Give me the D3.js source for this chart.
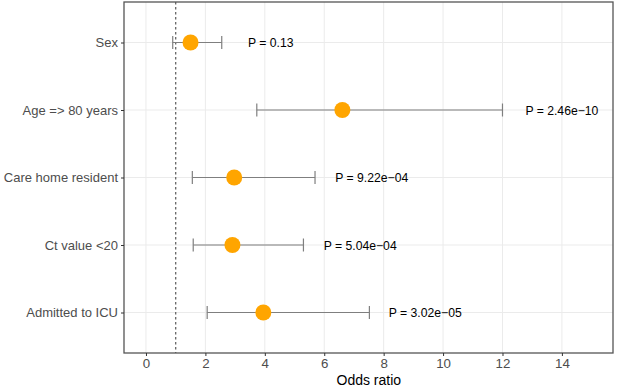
<!DOCTYPE html>
<html>
<head>
<meta charset="utf-8">
<script src="https://cdn.jsdelivr.net/npm/d3@7"></script>
<style>
  body { margin: 0; background: #fff; }
  svg { display: block; font-family: "Liberation Sans", Arial, sans-serif; }
</style>
</head>
<body>
<svg id="chart" width="617" height="389"></svg>
<script>
// values
const categories = ["Sex", "Age => 80 years", "Care home resident", "Ct value <20", "Admitted to ICU"];
const oddsRatio = [1.50, 6.61, 2.97, 2.91, 3.95];
const ciLower = [0.90, 3.73, 1.56, 1.59, 2.06];
const ciUpper = [2.55, 12.0, 5.69, 5.30, 7.52];
const pLabels = ["P = 0.13", "P = 2.46e\u221210", "P = 9.22e\u221204", "P = 5.04e\u221204", "P = 3.02e\u221205"];
const pLabelX = [4.2, 14.0, 7.6, 7.21, 9.4];
const xTicks = [0, 2, 4, 6, 8, 10, 12, 14];

const data = categories.map((c, i) => ({
    cat: c, or: oddsRatio[i], lo: ciLower[i], hi: ciUpper[i], p: pLabels[i], px: pLabelX[i]
}));

const svg = d3.select("#chart");
const margin = { top: 2, right: 4, bottom: 36, left: 124 };
const width = 617, height = 389;
const innerWidth = width - margin.left - margin.right;
const innerHeight = height - margin.top - margin.bottom;

const g = svg.append("g").attr("transform", `translate(${margin.left},${margin.top})`);

const x = d3.scaleLinear().domain([-0.74, 15.72]).range([0, innerWidth]);
// discrete scale like ggplot: 5 levels laid over [0.4, 5.6]
const y = d3.scalePoint().domain(categories)
    .range([innerHeight * 0.6 / 5.2, innerHeight * 4.6 / 5.2]);

// grid
g.selectAll(".gx").data(xTicks).enter().append("line")
    .attr("x1", d => x(d)).attr("x2", d => x(d))
    .attr("y1", 0).attr("y2", innerHeight)
    .attr("stroke", "#ebebeb").attr("stroke-width", 1);
g.selectAll(".gy").data(categories).enter().append("line")
    .attr("x1", 0).attr("x2", innerWidth)
    .attr("y1", d => y(d)).attr("y2", d => y(d))
    .attr("stroke", "#ebebeb").attr("stroke-width", 1);

// reference line at 1
g.append("line")
    .attr("x1", x(1)).attr("x2", x(1))
    .attr("y1", 0).attr("y2", innerHeight)
    .attr("stroke", "#666").attr("stroke-width", 1.3)
    .attr("stroke-dasharray", "2.5,2.5");

// error bars
const bars = g.selectAll(".err").data(data).enter().append("g");
bars.append("line")
    .attr("x1", d => x(d.lo)).attr("x2", d => x(d.hi))
    .attr("y1", d => y(d.cat)).attr("y2", d => y(d.cat))
    .attr("stroke", "#7f7f7f").attr("stroke-width", 1.2);
bars.append("line")
    .attr("x1", d => x(d.lo)).attr("x2", d => x(d.lo))
    .attr("y1", d => y(d.cat) - 6.5).attr("y2", d => y(d.cat) + 6.5)
    .attr("stroke", "#7f7f7f").attr("stroke-width", 1.2);
bars.append("line")
    .attr("x1", d => x(d.hi)).attr("x2", d => x(d.hi))
    .attr("y1", d => y(d.cat) - 6.5).attr("y2", d => y(d.cat) + 6.5)
    .attr("stroke", "#7f7f7f").attr("stroke-width", 1.2);

// points
g.selectAll(".pt").data(data).enter().append("circle")
    .attr("cx", d => x(d.or)).attr("cy", d => y(d.cat))
    .attr("r", 8).attr("fill", "#FFA500");

// p-value labels
g.selectAll(".pl").data(data).enter().append("text")
    .attr("x", d => x(d.px)).attr("y", d => y(d.cat) + 4.5)
    .attr("text-anchor", "middle")
    .attr("font-size", 12.2)
    .attr("fill", "#000")
    .text(d => d.p);

// panel border
g.append("rect")
    .attr("x", 0).attr("y", 0).attr("width", innerWidth).attr("height", innerHeight)
    .attr("fill", "none").attr("stroke", "#555").attr("stroke-width", 1.3);

// x axis
const xAxis = g.append("g").attr("transform", `translate(0,${innerHeight})`)
    .call(d3.axisBottom(x).tickValues(xTicks).tickSize(3).tickPadding(3).tickSizeOuter(0));
xAxis.select(".domain").remove();
xAxis.selectAll("line").attr("stroke", "#333");
xAxis.selectAll("text").attr("fill", "#4d4d4d").attr("font-size", 13.3)
    .attr("font-family", "Liberation Sans, Arial, sans-serif");

// y axis
const yAxis = g.append("g")
    .call(d3.axisLeft(y).tickSize(3).tickPadding(3));
yAxis.select(".domain").remove();
yAxis.selectAll("line").attr("stroke", "#333");
yAxis.selectAll("text").attr("fill", "#4d4d4d").attr("font-size", 13)
    .attr("font-family", "Liberation Sans, Arial, sans-serif");

// axis title
svg.append("text")
    .attr("x", margin.left + x(7.5))
    .attr("y", 385)
    .attr("text-anchor", "middle")
    .attr("font-size", 14)
    .attr("fill", "#000")
    .text("Odds ratio");
</script>
</body>
</html>
